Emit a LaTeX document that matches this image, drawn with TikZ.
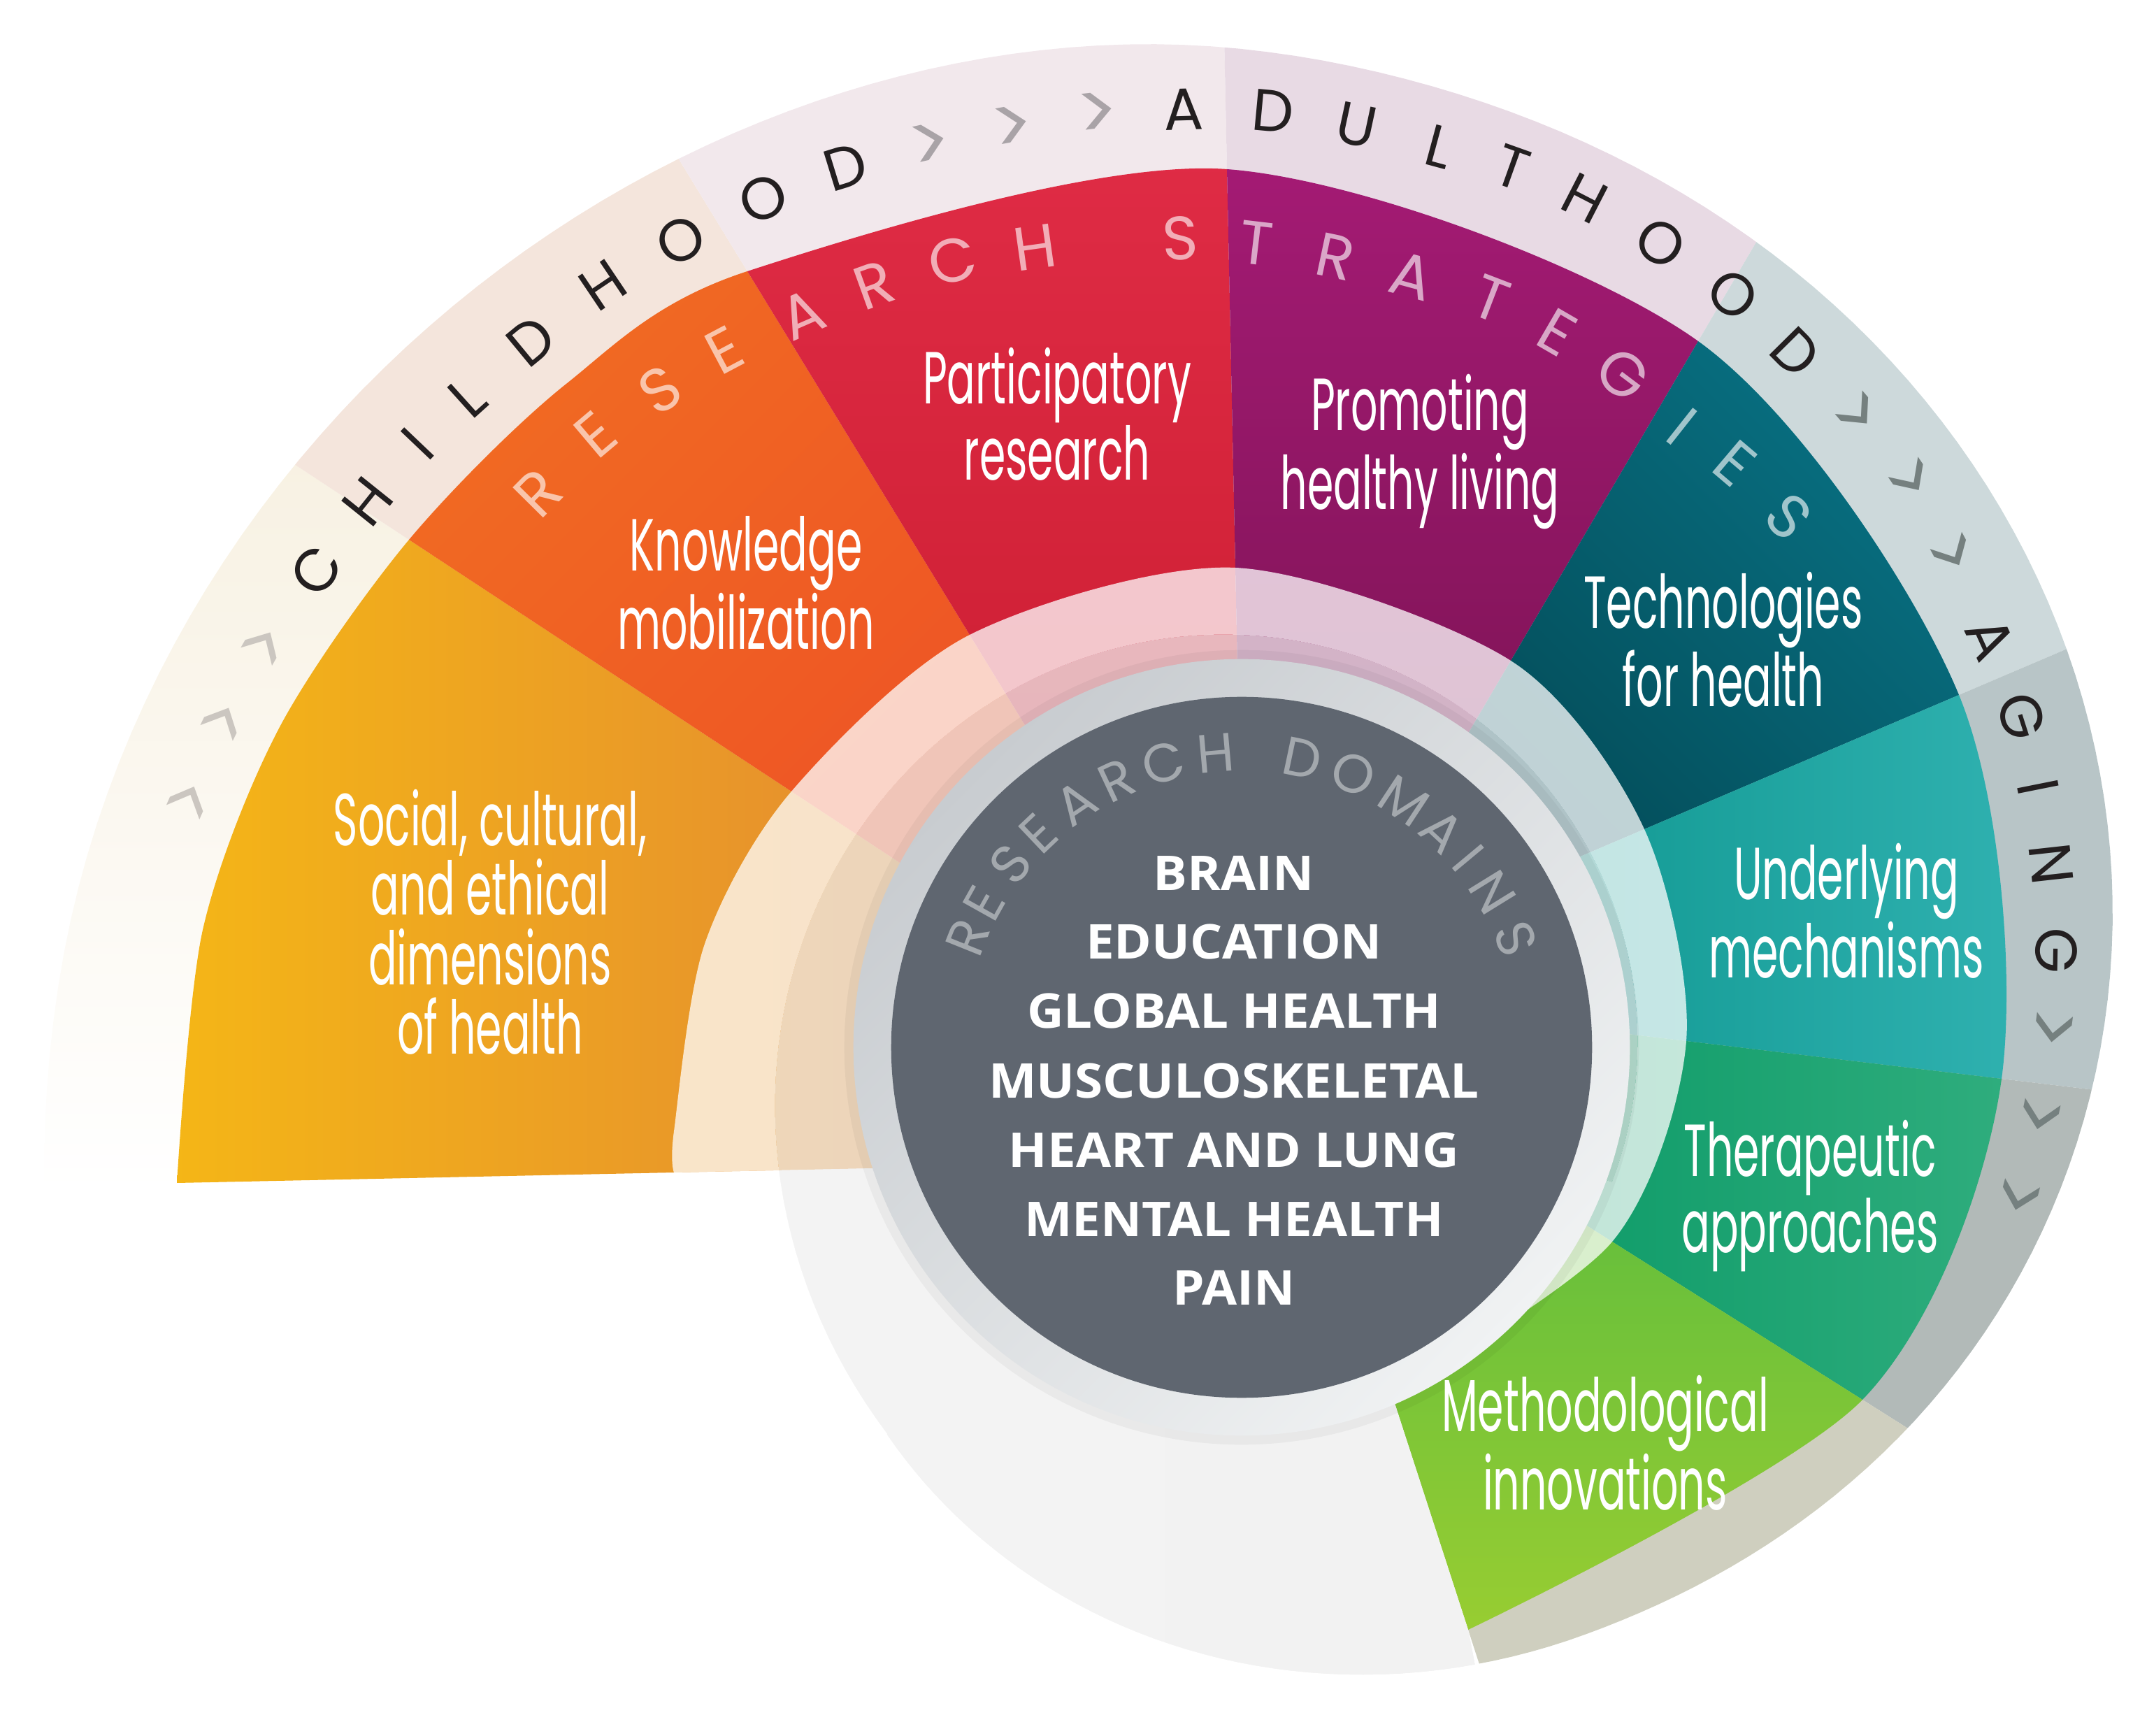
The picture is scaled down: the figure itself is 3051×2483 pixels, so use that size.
\documentclass[tikz,border=0pt]{standalone}
\usepackage{fontspec}
\setmainfont{Open Sans}
\newfontfamily\labelfont[FakeStretch=0.57]{Poppins}
\newfontfamily\arcfont{Poppins}
\newfontfamily\domainfont[FakeStretch=1.06]{Open Sans}
\usetikzlibrary{calc}

% wedge colours
\definecolor{yellowA}{HTML}{FFD206}
\definecolor{yellowB}{HTML}{E38832}
\definecolor{orangeA}{HTML}{F37B20}
\definecolor{orangeB}{HTML}{EE5525}
\definecolor{redA}{HTML}{EA3350}
\definecolor{redB}{HTML}{CC1E32}
\definecolor{magentaA}{HTML}{BC1F87}
\definecolor{magentaB}{HTML}{7C1354}
\definecolor{tealA}{HTML}{0B8BA1}
\definecolor{tealB}{HTML}{044F5C}
\definecolor{cyanA}{HTML}{42C0C2}
\definecolor{cyanB}{HTML}{0E968F}
\definecolor{greenA}{HTML}{0A9966}
\definecolor{greenB}{HTML}{45B98B}
\definecolor{limeA}{HTML}{5FBD3D}
\definecolor{limeB}{HTML}{B4D52C}
% life stage band
\definecolor{bandY}{HTML}{F6EEDC}
\definecolor{bandO}{HTML}{F4E5DC}
\definecolor{bandR}{HTML}{F2E8EC}
\definecolor{bandM}{HTML}{E8DAE4}
\definecolor{bandT}{HTML}{CDD9DB}
\definecolor{bandC}{HTML}{B8C5C7}
\definecolor{bandG}{HTML}{B2BAB8}
\definecolor{bandL}{HTML}{CFCFBF}
% centre
\definecolor{whorlA}{HTML}{F1F1F1}
\definecolor{whorlB}{HTML}{DCDCDC}
\definecolor{ringA}{HTML}{C8CCD0}
\definecolor{ringB}{HTML}{F0F2F3}
\definecolor{domainbg}{HTML}{5F6670}
\definecolor{domainarc}{HTML}{A3A8AD}
\definecolor{stageink}{HTML}{231F20}
\definecolor{chevA}{HTML}{CBC6C0}
\definecolor{chevB}{HTML}{A9A3A7}
\definecolor{chevC}{HTML}{75807F}

\tikzset{
  wedgelabel/.style={text=white, font=\labelfont\fontsize{30}{28.3}\selectfont, align=center, inner sep=0pt},
  stageletter/.style={text=stageink, font=\arcfont\fontsize{24}{24}\selectfont, inner sep=0pt},
  chevron/.style={font=\arcfont\fontsize{32}{32}\selectfont, inner sep=0pt},
  strategyletter/.style={text=white, text opacity=.62, font=\arcfont\fontsize{25}{25}\selectfont, inner sep=0pt},
  domainletter/.style={text=domainarc, font=\arcfont\fontsize{22}{22}\selectfont, inner sep=0pt},
  domainitem/.style={text=white, font=\domainfont\bfseries\fontsize{19.5}{19.5}\selectfont, anchor=base, inner sep=0pt},
}

\begin{document}
\begin{tikzpicture}[x=0.01cm, y=-0.01cm,
    declare function={
      rband(\t)=1155+3.05*\t+80*max(0,1-((\t-15)/75)^2)^2-25*max(0,1-((\t-130)/46)^2)^2;
      rwhorl(\t)=555+195*exp((\t+132.5)/80);
    }]
    \useasboundingbox (0,0) rectangle (3051,2483);

    % Spiral centre, wedge boundaries (outer end P, inner end I)
    \coordinate (C) at (1776,1498);
    \coordinate (P1) at (253,1692);  \coordinate (I1) at (964,1677);
    \coordinate (P2) at (585,772);   \coordinate (I2) at (1132,1132);
    \coordinate (P3) at (1069,388);  \coordinate (I3) at (1387,908);
    \coordinate (P4) at (1755,242);  \coordinate (I4) at (1767,812);
    \coordinate (P5) at (2429,488);  \coordinate (I5) at (2161,945);
    \coordinate (P6) at (2802,994);  \coordinate (I6) at (2352,1186);
    \coordinate (P7) at (2863,1543); \coordinate (I7) at (2412,1489);
    \coordinate (P8) at (2664,2002); \coordinate (I8) at (2306,1776);
    \coordinate (P9) at (2100,2331); \coordinate (I9) at (1991,1995);
    \coordinate (E) at ({1776+rband(-69.3)*cos(-69.3)},{1498-rband(-69.3)*sin(-69.3)});
    \foreach \k in {1,...,9} {
        \coordinate (F\k) at ($(P\k)!-1!(I\k)$);
        \coordinate (Q\k) at ($(I\k)!-0.5!(P\k)$);
    }

    % Grey whorl under everything
    \path[left color=whorlA, right color=whorlB] (E)
        -- plot[domain=-69.3:-132.5, samples=40, variable=\t] ({1776+rband(\t)*cos(\t)},{1498-rband(\t)*sin(\t)})
        -- plot[domain=-132.5:-380, samples=120, variable=\t] ({1776+rwhorl(\t)*cos(\t)},{1498-rwhorl(\t)*sin(\t)})
        -- (C) -- (I9) -- (P9) -- cycle;

    \begin{scope}
        % Life stage band
        \clip (Q1) -- plot[domain=186.7:-69.3, samples=160, variable=\t] ({1776+rband(\t)*cos(\t)},{1498-rband(\t)*sin(\t)})
            -- (P9) -- (Q9) -- cycle;
        \path[top color=bandY, bottom color=white] (Q1) -- (F1) -- (F2) -- (Q2) -- cycle;
        \fill[bandO] (Q2) -- (F2) -- (F3) -- (Q3) -- cycle;
        \fill[bandR] (Q3) -- (F3) -- (F4) -- (Q4) -- cycle;
        \fill[bandM] (Q4) -- (F4) -- (F5) -- (Q5) -- cycle;
        \fill[bandT] (Q5) -- (F5) -- (F6) -- (Q6) -- cycle;
        \fill[bandC] (Q6) -- (F6) -- (F7) -- (Q7) -- cycle;
        \fill[bandG] (Q7) -- (F7) -- (F8) -- (Q8) -- cycle;
        \fill[bandL] (Q8) -- (F8) -- (F9) -- (Q9) -- cycle;

        % Research strategy wedges
        \clip (Q1) -- (P1) -- plot[smooth] coordinates {(P1) (290,1330) (400,1040) (P2) (810,549) (P3) (P4) (P5) (P6) (P7) (P8) (P9)} -- (Q9) -- cycle;
        \path[left color=yellowA, right color=yellowB] (Q1) -- (F1) -- (F2) -- (Q2) -- cycle;
        \path[top color=orangeA, bottom color=orangeB, shading angle=45] (Q2) -- (F2) -- (F3) -- (Q3) -- cycle;
        \path[top color=redA, bottom color=redB] (Q3) -- (F3) -- (F4) -- (Q4) -- cycle;
        \path[top color=magentaA, bottom color=magentaB] (Q4) -- (F4) -- (F5) -- (Q5) -- cycle;
        \path[top color=tealA, bottom color=tealB, shading angle=-45] (Q5) -- (F5) -- (F6) -- (Q6) -- cycle;
        \path[left color=cyanB, right color=cyanA] (Q6) -- (F6) -- (F7) -- (Q7) -- cycle;
        \path[left color=greenA, right color=greenB] (Q7) -- (F7) -- (F8) -- (Q8) -- cycle;
        \path[top color=limeA, bottom color=limeB] (Q8) -- (F8) -- (F9) -- (Q9) -- cycle;
    \end{scope}

    % Pale inner ends of the wedges
    \fill[white, fill opacity=.75, even odd rule]
        (Q1) -- (I1) -- plot[smooth] coordinates {(I1) (964,1618) (1008,1350) (I2) (I3) (I4) (I5) (I6) (I7) (I8) (I9)} -- (C) -- cycle
        (E) -- plot[domain=-69.3:-132.5, samples=40, variable=\t] ({1776+rband(\t)*cos(\t)},{1498-rband(\t)*sin(\t)})
            -- plot[domain=-132.5:-380, samples=120, variable=\t] ({1776+rwhorl(\t)*cos(\t)},{1498-rwhorl(\t)*sin(\t)})
            -- (C) -- (I9) -- (P9) -- cycle;
    \fill[whorlA, fill opacity=.72] (E)
        -- plot[domain=-69.3:-132.5, samples=40, variable=\t] ({1776+rband(\t)*cos(\t)},{1498-rband(\t)*sin(\t)})
        -- plot[domain=-132.5:-380, samples=120, variable=\t] ({1776+rwhorl(\t)*cos(\t)},{1498-rwhorl(\t)*sin(\t)})
        -- (C) -- (I9) -- (P9) -- cycle;

    % Research domains disc
    \fill[black, opacity=.04] (C) circle (5.68cm);
    \path[top color=ringA, bottom color=ringB, shading angle=45] (C) circle (5.55cm);
    \fill[domainbg] (C) circle (5.01cm);

    % Strategy labels
    \node[wedgelabel] (social) at (701,1319) {Social, cultural,\\and ethical\\dimensions\\of health};
    \node[wedgelabel] (knowledge) at (1067,834) {Knowledge\\mobilization};
    \node[wedgelabel] (participatory) at (1512,592) {Participatory\\research};
    \node[wedgelabel] (promoting) at (2031,646) {Promoting\\healthy living};
    \node[wedgelabel] (technologies) at (2465,915) {Technologies\\for health};
    \node[wedgelabel] (underlying) at (2641,1303) {Underlying\\mechanisms};
    \node[wedgelabel] (therapeutic) at (2589,1711) {Therapeutic\\approaches};
    \node[wedgelabel] (methodological) at (2296,2064) {Methodological\\innovations};

    % Domain list
    \node[domainitem] (brain) at (1765,1274) {BRAIN};
    \node[domainitem] (education) at (1765,1372) {EDUCATION};
    \node[domainitem] (global) at (1765,1471) {GLOBAL HEALTH};
    \node[domainitem] (musculo) at (1765,1570) {MUSCULOSKELETAL};
    \node[domainitem] (heart) at (1765,1669) {HEART AND LUNG};
    \node[domainitem] (mental) at (1765,1768) {MENTAL HEALTH};
    \node[domainitem] (pain) at (1765,1866) {PAIN};

    % Life stages along the band
    \foreach \x/\y/\r/\l [count=\n] in {452/816/55.9/C, 526/717/51.3/H, 597/635/46.4/I, 668/568/42.0/L, 760/488/39.5/D, 862/408/33.9/H, 974/344/28.3/O, 1092/284/24.1/O, 1209/239/17.1/D,
        1693/156/1.6/A, 1821/159/-5.3/D, 1940/179/-12.1/U, 2059/210/-15.1/L, 2163/239/-19.6/T, 2267/284/-27.2/H, 2375/348/-32.9/O, 2479/421/-38.9/O, 2568/504/-45.3/D,
        2847/913/-65.4/A, 2892/1025/-72.3/G, 2915/1126/-78.7/I, 2934/1236/-83.7/N, 2941/1360/-91.0/G}
        \node[stageletter, rotate=\r] (stage\n) at (\x,\y) {\l};
    \foreach \x/\y/\r/\c [count=\n] in {277/1147/66.4/chevA, 326/1035/64.1/chevA, 384/927/60.1/chevA,
        1332/210/12.7/chevB, 1449/185/10.4/chevB, 1571/166/6.8/chevB,
        2652/596/-49.3/chevC, 2727/689/-55.9/chevC, 2786/794/-61.8/chevC,
        2930/1470/-97.3/chevC, 2911/1594/-101.6/chevC, 2881/1709/-104.6/chevC}
        \node[chevron, text=\c, rotate=\r] (chevron\n) at (\x,\y) {>};

    % Research strategies title
    \foreach \x/\y/\r/\l [count=\n] in {770/705/45.3/R, 852/622/40.2/E, 944/558/33.3/S, 1036/501/27.9/E, 1148/450/23.5/A, 1250/408/19.8/R, 1362/373/13.2/C, 1480/354/8/H,
        1688/341/2/S, 1797/348/-6.7/T, 1910/367/-12/R, 2019/395/-15.1/A, 2133/427/-21/T, 2227/475/-30.1/E, 2321/536/-37/G, 2406/610/-38.3/I, 2482/663/-40.3/E, 2558/739/-45/S}
        \node[strategyletter, rotate=\r] (strategy\n) at (\x,\y) {\l};

    % Research domains title
    \foreach \a/\l [count=\n] in {158.1/R, 150.8/E, 141.6/S, 133.5/E, 124.2/A, 115.1/R, 105.4/C, 95.0/H,
        78.1/D, 67.8/O, 56.6/M, 47.1/A, 39.8/I, 31.7/N, 21.6/S}
        \node[domainletter, rotate=\a-90] (domain\n) at ($(C)+(-\a:422)$) {\l};
\end{tikzpicture}
\end{document}
